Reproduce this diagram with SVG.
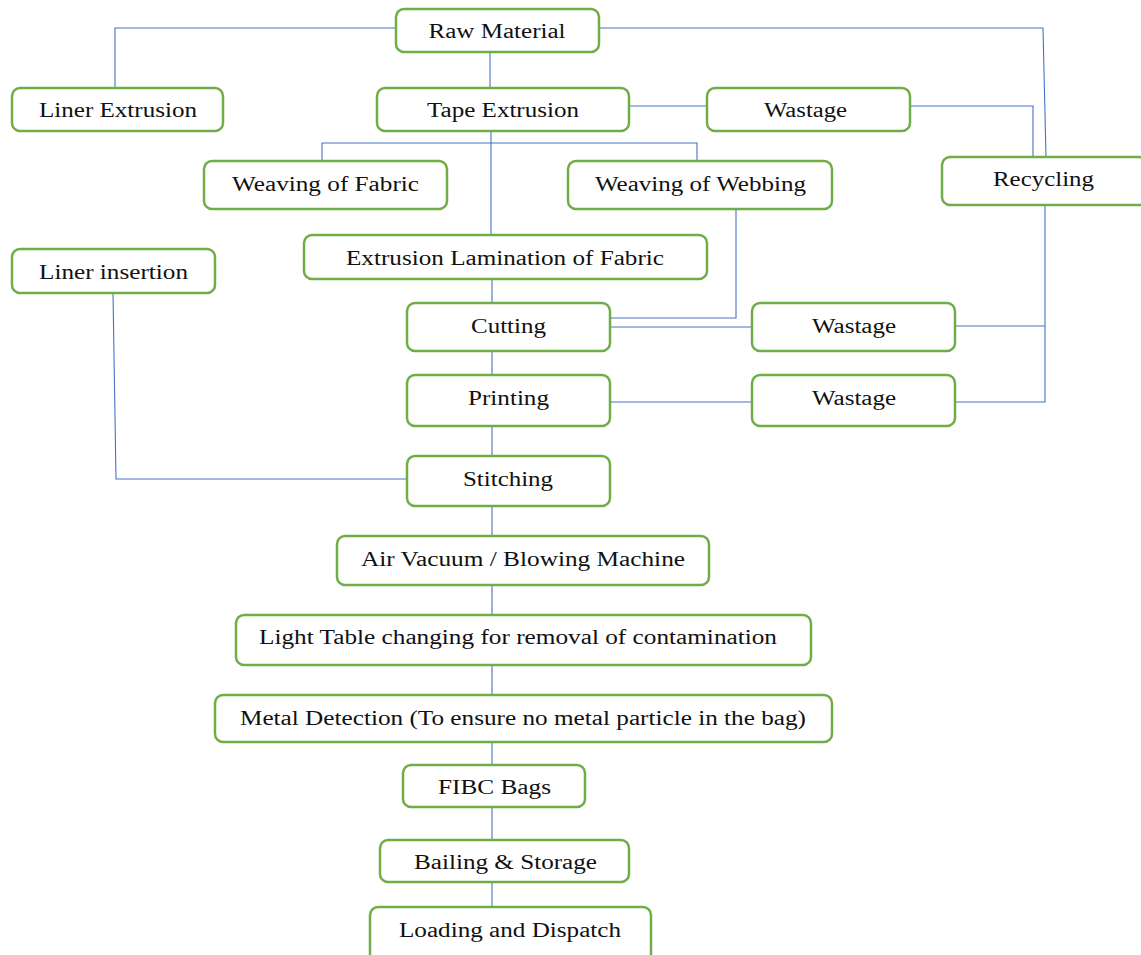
<svg xmlns="http://www.w3.org/2000/svg" width="1141" height="955" viewBox="0 0 1141 955">
<style>
.b{fill:#fff;stroke:#70AD47;stroke-width:2.5}
.t{font-family:"Liberation Serif","Times New Roman",serif;font-size:20px;fill:#111;text-anchor:middle}
.c{fill:none;stroke:#4472C4;stroke-width:1.1}
</style>
<rect width="1141" height="955" fill="#fff"/>
<g id="connectors" class="c">
<path d="M396 28H115V88"/>
<path d="M599 28H1043L1046 157"/>
<path d="M490 52V88"/>
<path d="M629 106H707"/>
<path d="M910 106H1033V157"/>
<path d="M491 131V235"/>
<path d="M322 161V143H697V161"/>
<path d="M492 279V303"/>
<path d="M736 209V318H610"/>
<path d="M610 327H752"/>
<path d="M1045 205V402H955"/>
<path d="M955 326H1045"/>
<path d="M610 402H752"/>
<path d="M492 351V375"/>
<path d="M492 426V456"/>
<path d="M113 293L116 479H407"/>
<path d="M492 506V536"/>
<path d="M492 585V615"/>
<path d="M492 665V695"/>
<path d="M492 742V765"/>
<path d="M492 807V840"/>
<path d="M492 882V907"/>
</g>
<g id="raw"><rect class="b" x="396" y="9" width="203" height="43" rx="8"/><text class="t" x="497" y="38" textLength="137" lengthAdjust="spacingAndGlyphs">Raw Material</text></g>
<g id="liner-ext"><rect class="b" x="12" y="88" width="211" height="43" rx="8"/><text class="t" x="118" y="117" textLength="158" lengthAdjust="spacingAndGlyphs">Liner Extrusion</text></g>
<g id="tape"><rect class="b" x="377" y="88" width="252" height="43" rx="8"/><text class="t" x="503" y="117" textLength="152" lengthAdjust="spacingAndGlyphs">Tape Extrusion</text></g>
<g id="wastage1"><rect class="b" x="707" y="88" width="203" height="43" rx="8"/><text class="t" x="805.5" y="117" textLength="83" lengthAdjust="spacingAndGlyphs">Wastage</text></g>
<g id="recycling"><rect class="b" x="942" y="157" width="205" height="48" rx="8"/><text class="t" x="1043.5" y="186" textLength="101" lengthAdjust="spacingAndGlyphs">Recycling</text></g>
<g id="weave-fabric"><rect class="b" x="204" y="161" width="243" height="48" rx="8"/><text class="t" x="325.5" y="191" textLength="187" lengthAdjust="spacingAndGlyphs">Weaving of Fabric</text></g>
<g id="weave-webbing"><rect class="b" x="568" y="161" width="264" height="48" rx="8"/><text class="t" x="700.5" y="191" textLength="211" lengthAdjust="spacingAndGlyphs">Weaving of Webbing</text></g>
<g id="lamination"><rect class="b" x="304" y="235" width="403" height="44" rx="8"/><text class="t" x="505" y="265" textLength="318" lengthAdjust="spacingAndGlyphs">Extrusion Lamination of Fabric</text></g>
<g id="liner-ins"><rect class="b" x="12" y="249" width="203" height="44" rx="8"/><text class="t" x="113.5" y="279" textLength="149" lengthAdjust="spacingAndGlyphs">Liner insertion</text></g>
<g id="cutting"><rect class="b" x="407" y="303" width="203" height="48" rx="8"/><text class="t" x="508.5" y="333" textLength="75" lengthAdjust="spacingAndGlyphs">Cutting</text></g>
<g id="wastage2"><rect class="b" x="752" y="303" width="203" height="48" rx="8"/><text class="t" x="854" y="333" textLength="84" lengthAdjust="spacingAndGlyphs">Wastage</text></g>
<g id="printing"><rect class="b" x="407" y="375" width="203" height="51" rx="8"/><text class="t" x="508.5" y="405" textLength="81" lengthAdjust="spacingAndGlyphs">Printing</text></g>
<g id="wastage3"><rect class="b" x="752" y="375" width="203" height="51" rx="8"/><text class="t" x="854" y="405" textLength="84" lengthAdjust="spacingAndGlyphs">Wastage</text></g>
<g id="stitching"><rect class="b" x="407" y="456" width="203" height="50" rx="8"/><text class="t" x="508" y="486" textLength="90" lengthAdjust="spacingAndGlyphs">Stitching</text></g>
<g id="air"><rect class="b" x="337" y="536" width="372" height="49" rx="8"/><text class="t" x="523" y="566" textLength="324" lengthAdjust="spacingAndGlyphs">Air Vacuum / Blowing Machine</text></g>
<g id="light"><rect class="b" x="236" y="615" width="575" height="50" rx="8"/><text class="t" x="518" y="644" textLength="518" lengthAdjust="spacingAndGlyphs">Light Table changing for removal of contamination</text></g>
<g id="metal"><rect class="b" x="215" y="695" width="617" height="47" rx="8"/><text class="t" x="523" y="725" textLength="566" lengthAdjust="spacingAndGlyphs">Metal Detection (To ensure no metal particle in the bag)</text></g>
<g id="fibc"><rect class="b" x="403" y="765" width="182" height="42" rx="8"/><text class="t" x="494.5" y="794" textLength="113" lengthAdjust="spacingAndGlyphs">FIBC Bags</text></g>
<g id="bailing"><rect class="b" x="380" y="840" width="249" height="42" rx="8"/><text class="t" x="505.5" y="869" textLength="183" lengthAdjust="spacingAndGlyphs">Bailing &amp; Storage</text></g>
<g id="loading"><rect class="b" x="370" y="907" width="281" height="55" rx="8"/><text class="t" x="510" y="937" textLength="222" lengthAdjust="spacingAndGlyphs">Loading and Dispatch</text></g>
</svg>
